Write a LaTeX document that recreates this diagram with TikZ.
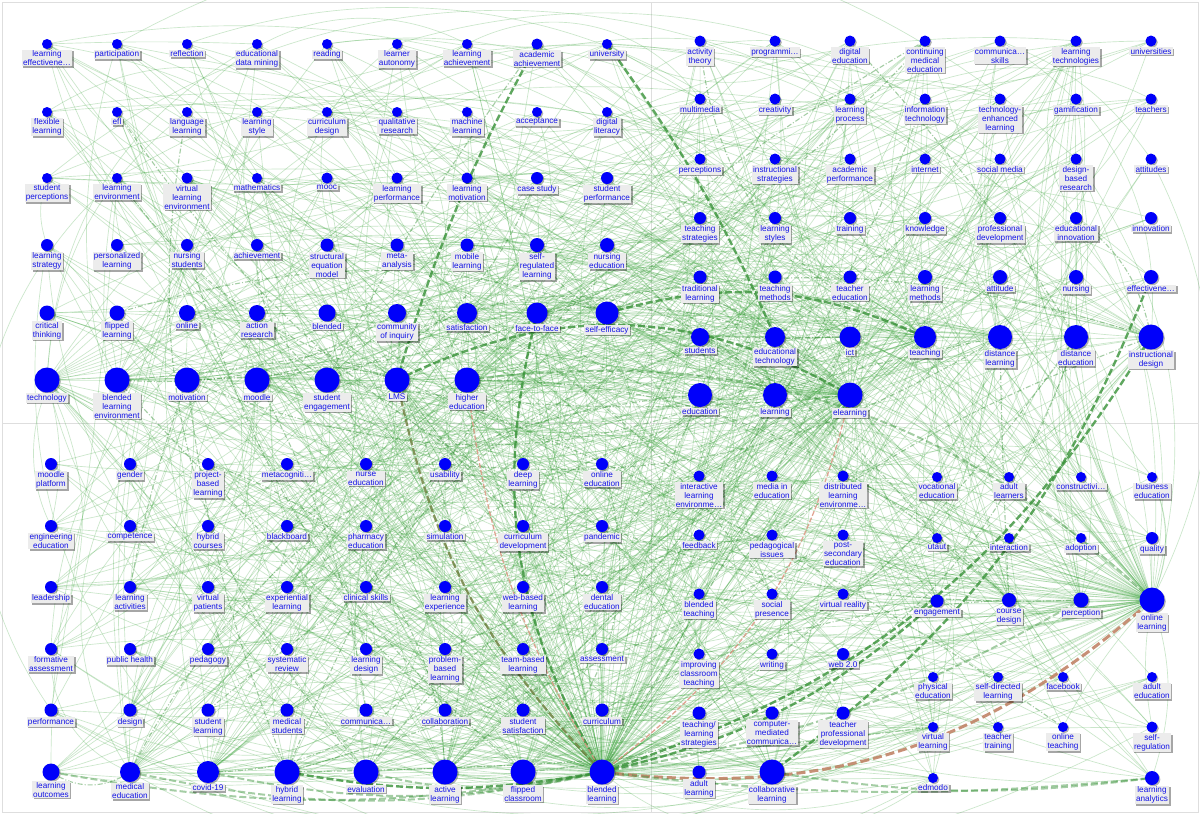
\documentclass[tikz,border=0pt]{standalone}
\usepackage{fontspec}
\setmainfont{Liberation Sans}
\usetikzlibrary{shadows}
\pgfdeclarelayer{bg}
\pgfdeclarelayer{edges}
\pgfsetlayers{bg,edges,main}
\definecolor{nodeblue}{RGB}{0,0,250}
\definecolor{txtblue}{RGB}{20,20,230}
\definecolor{lblgray}{RGB}{236,236,236}
\definecolor{egreen}{RGB}{60,165,60}
\definecolor{dgreen}{RGB}{55,145,55}
\definecolor{salmonc}{RGB}{220,150,130}
\definecolor{brownc}{RGB}{190,125,95}
\definecolor{olivec}{RGB}{110,125,60}
\definecolor{gridgray}{RGB}{222,222,222}
% one unit = half a point; the page is 600pt x 407pt (1200 x 814 units)
\tikzset{
  dot/.style={circle, fill=nodeblue, inner sep=0pt,
    drop shadow={shadow xshift=0.65pt, shadow yshift=-0.65pt, fill=black, opacity=0.3}},
  lbl/.style={fill=lblgray, text=txtblue, font=\fontsize{4.1}{4.5}\selectfont,
    align=center, inner xsep=0.6pt, inner ysep=0.4pt, anchor=north,
    drop shadow={shadow xshift=0.75pt, shadow yshift=-0.75pt, fill=black, opacity=0.35}},
  edge/.style={draw=egreen, line width=0.33pt, opacity=0.27},
  edgedash/.style={draw=dgreen, line width=0.55pt, opacity=0.45, dash pattern=on 2.5pt off 1pt on 0.5pt off 1pt},
  heavy/.style={draw=dgreen, line width=1.2pt, opacity=0.8, dash pattern=on 3.5pt off 1.5pt},
  heavylight/.style={draw=dgreen, line width=1pt, opacity=0.45, dash pattern=on 3.5pt off 1.5pt},
  heavyolive/.style={draw=olivec, line width=1.1pt, opacity=0.8, dash pattern=on 3.5pt off 1.5pt},
  thinsalmon/.style={draw=salmonc, line width=0.65pt, opacity=0.85, dash pattern=on 2.5pt off 1pt},
  heavybrown/.style={draw=brownc, line width=1.5pt, opacity=0.85, dash pattern=on 4.5pt off 2pt},
}
\begin{document}
\begin{tikzpicture}[x=0.5pt,y=-0.5pt]
\useasboundingbox (0,0) rectangle (1200,814);
\begin{pgfonlayer}{bg}
  \fill[white] (0,0) rectangle (1200,814);
  \draw[gridgray, line width=0.4pt] (2,2) rectangle (1198,812);
  \draw[gridgray, line width=0.4pt] (651,2) -- (651,812);
  \draw[gridgray, line width=0.4pt] (2,423) -- (1198,423);
\end{pgfonlayer}
% ---------------- nodes ----------------
\foreach \px/\py/\pr/\pid/\ptxt [count=\i] in {
47/44/5/leffect/learning\\effectivene…,
117/44/5/particip/participation,
187/44/5/reflect/reflection,
257/44/5/edm/educational\\data mining,
327/44/5/reading/reading,
397/44/5/lautonomy/learner\\autonomy,
467/44/5/lachieve/learning\\achievement,
537/44/5.5/acadach/academic\\achievement,
607/44/5/univ/university,
47/112/5/flexl/flexible\\learning,
117/112/5/efl/efl,
187/112/5/langl/language\\learning,
257/112/5/lstyle/learning\\style,
327/112/5/curdes/curriculum\\design,
397/112/5/qualres/qualitative\\research,
467/112/5/machl/machine\\learning,
537/112/5/accept/acceptance,
607/112/5/diglit/digital\\literacy,
47/178/5/stuperc/student\\perceptions,
117/178/5/lenv/learning\\environment,
187/178/5.5/vle/virtual\\learning\\environment,
257/178/5/math/mathematics,
327/178/5.5/mooc/mooc,
397/178/5.5/lperf/learning\\performance,
467/178/5.5/lmotiv/learning\\motivation,
537/178/6/casest/case study,
607/178/6/stuperf/student\\performance,
47/245/6/lstrat/learning\\strategy,
117/245/6/perslearn/personalized\\learning,
187/245/6/nursstu/nursing\\students,
257/245/6/achieve/achievement,
327/245/6.5/sem/structural\\equation\\model,
397/245/6.5/meta/meta-\\analysis,
467/245/6.5/mobile/mobile\\learning,
537/245/7/srl/self-\\regulated\\learning,
607/245/7/nursedu/nursing\\education,
47/313/7.5/critthink/critical\\thinking,
117/313/7.5/flippedl/flipped\\learning,
187/313/8/online/online,
257/313/8/actres/action\\research,
327/313/8.5/blended/blended,
397/313/9/coi/community\\of inquiry,
467/313/10/satisf/satisfaction,
537/313/10.5/f2f/face-to-face,
607/313/11.5/selfeff/self-efficacy,
47/380/12.5/tech/technology,
117/380/12.5/ble/blended\\learning\\environment,
187/380/12.5/motiv/motivation,
257/380/12.5/moodle/moodle,
327/380/12.5/stueng/student\\engagement,
397/380/12.5/lms/LMS,
467/380/12.5/highedu/higher\\education,
700/41/5.5/acttheory/activity\\theory,
775/41/5.5/programming/programmi…,
850/41/5.5/digedu/digital\\education,
925/41/5.5/cme/continuing\\medical\\education,
1000/41/5.5/commskills/communica…\\skills,
1076/41/5.5/ltech/learning\\technologies,
1151/41/5.5/univs/universities,
700/99/5.5/multimedia/multimedia,
775/99/5.5/creativity/creativity,
850/99/5.5/lprocess/learning\\process,
925/99/5.5/infotech/information\\technology,
1000/99/5.5/tel/technology-\\enhanced\\learning,
1076/99/5.5/gamif/gamification,
1151/99/5.5/teachers/teachers,
700/159/5.5/percs/perceptions,
775/159/5.5/instrstrat/instructional\\strategies,
850/159/5.5/acadperf/academic\\performance,
925/159/5.5/internet/internet,
1000/159/5.5/socmedia/social media,
1076/159/5.5/dbr/design-\\based\\research,
1151/159/5.5/attitudes/attitudes,
700/218/6/teachstrat/teaching\\strategies,
775/218/6/lstyles/learning\\styles,
850/218/6/training/training,
925/218/6/knowledge/knowledge,
1000/218/6/profdev/professional\\development,
1076/218/6/eduinnov/educational\\innovation,
1151/218/6/innovation/innovation,
700/277/6.5/tradl/traditional\\learning,
775/277/6.5/teachmeth/teaching\\methods,
850/277/6.5/teachedu/teacher\\education,
925/277/7/lmethods/learning\\methods,
1000/277/7/attitude/attitude,
1076/277/7/nursing/nursing,
1151/277/7/effect/effectivene…,
700/337/9/students/students,
775/337/10/edtech/educational\\technology,
850/337/10.5/ict/ict,
925/337/11/teaching/teaching,
1000/337/12/distl/distance\\learning,
1076/337/12/diste/distance\\education,
1151/337/12.5/instrdes/instructional\\design,
700/395/12/education/education,
775/395/12/learning/learning,
850/395/12.5/elearning/elearning,
51/464/6/moodleplat/moodle\\platform,
130/464/6/gender/gender,
208/464/6/pbl/project-\\based\\learning,
287/464/6/metacog/metacogniti…,
366/464/6/nurseedu/nurse\\education,
445/464/6/usability/usability,
523/464/6/deepl/deep\\learning,
602/464/6/onlineedu/online\\education,
51/526/6/engedu/engineering\\education,
130/526/6/competence/competence,
208/526/6/hybridc/hybrid\\courses,
287/526/6/blackboard/blackboard,
366/526/6/pharmedu/pharmacy\\education,
445/526/6/simulation/simulation,
523/526/6/curdev/curriculum\\development,
602/526/6/pandemic/pandemic,
51/587/6/leadership/leadership,
130/587/6/lactiv/learning\\activities,
208/587/6/virtpat/virtual\\patients,
287/587/6/explearn/experiential\\learning,
366/587/6/clinskills/clinical skills,
445/587/6/lexper/learning\\experience,
523/587/6/webbased/web-based\\learning,
602/587/6/dentedu/dental\\education,
51/649/6/formassess/formative\\assessment,
130/649/6/pubhealth/public health,
208/649/6/pedagogy/pedagogy,
287/649/6/sysrev/systematic\\review,
366/649/6/ldesign/learning\\design,
445/649/6/probl/problem-\\based\\learning,
523/649/6/teambl/team-based\\learning,
602/649/6/assessment/assessment,
51/710/6.5/performance/performance,
130/710/6.5/design/design,
208/710/6.5/stulearn/student\\learning,
287/710/6.5/medstu/medical\\students,
366/710/6.5/communica/communica…,
445/710/6.5/collab/collaboration,
523/710/6.5/stusat/student\\satisfaction,
602/710/6.5/curriculum/curriculum,
51/772/8.5/lout/learning\\outcomes,
130/772/10/mededu/medical\\education,
208/772/11/covid/covid-19,
287/772/12.5/hybridl/hybrid\\learning,
366/772/12.5/evaluation/evaluation,
445/772/12.5/activel/active\\learning,
523/772/12.5/flipcl/flipped\\classroom,
602/772/12.5/bl/blended\\learning,
699/476/5.5/ile/interactive\\learning\\environme…,
772/476/5.5/mediaedu/media in\\education,
843/476/5.5/dle/distributed\\learning\\environme…,
699/535/5.5/feedback/feedback,
772/535/5.5/pedissues/pedagogical\\issues,
843/535/5.5/postsec/post-\\secondary\\education,
699/594/5.5/blteach/blended\\teaching,
772/594/5.5/socpres/social\\presence,
843/594/5.5/vr/virtual reality,
699/654/5.5/improving/improving\\classroom\\teaching,
772/654/5.5/writing/writing,
843/654/6/web2/web 2.0,
699/713/6.5/tlstrat/teaching\slash\\learning\\strategies,
772/713/6.5/cmc/computer-\\mediated\\communica…,
843/713/6.5/tpd/teacher\\professional\\development,
699/772/6.5/adultl/adult\\learning,
772/772/12.5/collabl/collaborative\\learning,
937/477/5/vocedu/vocational\\education,
1009/477/5/adultlrn/adult\\learners,
1081/477/5/construct/constructivi…,
1152/477/5/busedu/business\\education,
937/538/5/utaut/utaut,
1009/538/5/interaction/interaction,
1081/538/5/adoption/adoption,
1152/538/6/quality/quality,
937/601/6.5/engagement/engagement,
1009/600/7/coursedes/course\\design,
1081/600/7.5/perception/perception,
1152/600/12.5/onlinel/online\\learning,
933/677/5/physedu/physical\\education,
998/677/5/sdl/self-directed\\learning,
1063/677/5/facebook/facebook,
1152/677/5/adultedu/adult\\education,
933/727/5/virtl/virtual\\learning,
998/727/5/teachtrain/teacher\\training,
1063/727/5/onlineteach/online\\teaching,
1152/727/5.5/selfreg/self-\\regulation,
933/778/5/edmodo/edmodo,
1152/778/7/lanalytics/learning\\analytics}
{
  \node[dot, minimum size=\pr pt, alias=n\i] (\pid) at (\px,\py) {};
  \node[lbl] (\pid-t) at (\pid.south) {\ptxt};
}
% ---------------- connectors (centre to centre, under the dots) ----------------
\begin{pgfonlayer}{edges}
\clip (0,0) rectangle (1200,814);
\pgfmathsetseed{31}
% fan of blended learning
\foreach \k in {1,...,180}{
  \pgfmathrandominteger{\a}{1}{184}
  \pgfmathrandominteger{\b}{-25}{25}
  \ifnum\a=145 \else \draw[edge] (bl.center) to[bend left=\b] (n\a.center); \fi
}
% fan of online learning
\foreach \k in {1,...,90}{
  \pgfmathrandominteger{\a}{1}{184}
  \pgfmathrandominteger{\b}{-30}{30}
  \ifnum\a=174 \else \draw[edge] (onlinel.center) to[bend left=\b] (n\a.center); \fi
}
% fan of elearning
\foreach \k in {1,...,80}{
  \pgfmathrandominteger{\a}{1}{184}
  \pgfmathrandominteger{\b}{-30}{30}
  \ifnum\a=97 \else \draw[edge] (elearning.center) to[bend left=\b] (n\a.center); \fi
}
\pgfmathdeclarerandomlist{hubs}{{43}{44}{45}{46}{47}{48}{49}{50}{51}{52}{88}{89}{90}{91}{92}{93}{94}{95}{96}{139}{140}{141}{142}{143}{144}{162}{172}{173}}
\foreach \k in {1,...,420}{
  \pgfmathrandomitem{\h}{hubs}
  \pgfmathrandominteger{\a}{1}{184}
  \pgfmathrandominteger{\b}{-42}{42}
  \ifnum\a=\h\relax \else \draw[edge] (n\h.center) to[bend left=\b] (n\a.center); \fi
}
\foreach \k in {1,...,380}{
  \pgfmathrandominteger{\a}{1}{184}
  \pgfmathrandominteger{\c}{1}{184}
  \pgfmathrandominteger{\b}{-45}{45}
  \ifnum\a=\c\relax \else \draw[edge] (n\a.center) to[bend left=\b] (n\c.center); \fi
}
\foreach \k in {1,...,55}{
  \pgfmathrandomitem{\h}{hubs}
  \pgfmathrandominteger{\a}{1}{184}
  \pgfmathrandominteger{\b}{-35}{35}
  \ifnum\a=\h\relax \else \draw[edgedash] (n\h.center) to[bend left=\b] (n\a.center); \fi
}
% heavy connectors
\draw[heavy] (lms.center) to[bend left=28] (elearning.center);
\draw[heavy] (f2f.center) to[bend right=22] (bl.center);
\draw[heavyolive] (lms.center) to[bend right=16] (bl.center);
\draw[thinsalmon] (highedu.center) to[bend right=12] (bl.center);
\draw[thinsalmon] (bl.center) to[bend right=20] (elearning.center);
\draw[heavybrown] (bl.center) to[bend right=24] (onlinel.center);
\draw[heavy] (instrdes.center) to[bend left=20] (bl.center);
\draw[heavy] (effect.center) to[bend left=16] (collabl.center);
\draw[heavy] (acadach.center) to[bend right=6] (lms.center);
\draw[heavy] (univ.center) to[bend left=6] (edtech.center);
\draw[heavy] (bl.center) to[bend right=14] (engagement.center);
\draw[heavylight] (bl.center) to[bend right=10] (perception.center);
\draw[heavy] (hybridl.center) to[bend right=10] (bl.center);
\draw[heavylight] (mededu.center) to[bend right=12] (bl.center);
\draw[heavylight] (covid.center) to[bend right=12] (bl.center);
\draw[heavylight] (lout.center) to[bend right=10] (bl.center);
\draw[heavylight] (evaluation.center) to[bend right=14] (bl.center);
\draw[heavylight] (bl.center) to[bend right=6] (lanalytics.center);
\draw[heavylight] (collabl.center) to[bend right=8] (lanalytics.center);
\draw[heavy] (selfeff.center) to[bend left=20] (teaching.center);
\draw[heavylight] (highedu.center) to[bend left=25] (onlinel.center);
\end{pgfonlayer}
\end{tikzpicture}
\end{document}
